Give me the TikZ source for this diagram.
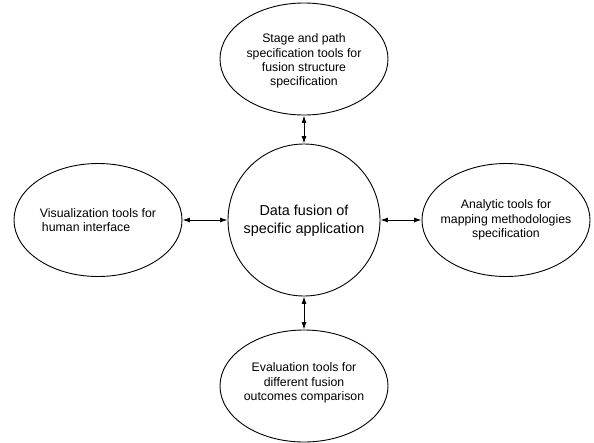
\documentclass[tikz,border=0pt]{standalone}
\usepackage{fontspec}
\setmainfont{Liberation Sans}
\usetikzlibrary{shapes.geometric,arrows.meta}
\begin{document}
\begin{tikzpicture}[x=1pt,y=-1pt,
  tool/.style={draw=black,line width=0.9pt,ellipse,inner sep=0pt,
    minimum width=168pt,minimum height=112pt},
  hub/.style={draw=black,line width=0.9pt,circle,inner sep=0pt,
    minimum size=152pt},
  tooltext/.style={align=center,inner sep=0pt,
    font=\fontsize{12.3}{14.2}\selectfont},
  hubtext/.style={align=center,inner sep=0pt,
    font=\fontsize{14.4}{17.7}\selectfont},
  link/.style={line width=0.9pt,{Latex[length=7.5pt,width=5pt]}-{Latex[length=7.5pt,width=5pt]}}]
  \useasboundingbox (0,0) rectangle (594,442);

  % central application circle
  \node[hub] (hub) at (304,220) {};
  \node[hubtext] (hubt) at (304,221) {Data fusion of\\specific application};

  % surrounding tool ellipses
  \node[tool] (top) at (304,59) {};
  \node[tooltext] (topt) at (304,61) {Stage and path\\specification tools for\\fusion structure\\specification};

  \node[tool,minimum height=113pt] (left) at (98,220) {};
  \node[tooltext,align=left] (leftt) at (98,220) {Visualization tools for\\\hspace{2pt}human interface};

  \node[tool,minimum height=113pt] (right) at (506,220) {};
  \node[tooltext] (rightt) at (506,220) {Analytic tools for\\mapping methodologies\\specification};

  \node[tool] (bottom) at (304,386) {};
  \node[tooltext] (bottomt) at (304,383) {Evaluation tools for\\different fusion\\outcomes comparison};

  % two-way links
  \draw[link] (top.south) -- (hub.north);
  \draw[link] (left.east) -- (hub.west);
  \draw[link] (hub.east) -- (right.west);
  \draw[link] (hub.south) -- (bottom.north);
\end{tikzpicture}
\end{document}
